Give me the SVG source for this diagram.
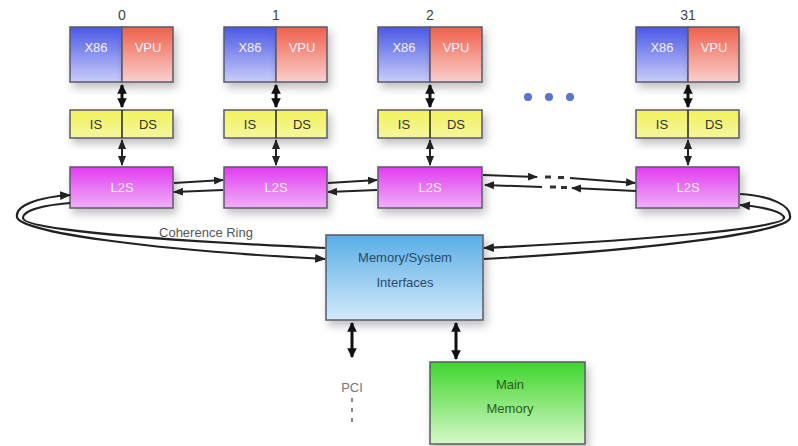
<svg xmlns="http://www.w3.org/2000/svg" width="798" height="446" viewBox="0 0 798 446">
<defs>
<style>
.t{font-family:"Liberation Sans","DejaVu Sans",sans-serif;text-anchor:middle}
.lbl{font-size:14px;fill:#444}
.w{font-size:13px;fill:#f4f0ff}
.d{font-size:13px;fill:#333}
.box{stroke:#5a5a6a;stroke-width:1.5}
.ln{fill:none;stroke:#222;stroke-width:2}
.ring{fill:none;stroke:#222;stroke-width:2.2}
.thick{fill:none;stroke:#111;stroke-width:3}
.dash{stroke:#333;stroke-width:3}
</style>
<linearGradient id="gX" x1="0" y1="0" x2="0" y2="1"><stop offset="0" stop-color="#4a58e6"/><stop offset="1" stop-color="#c9cdf8"/></linearGradient>
<linearGradient id="gV" x1="0" y1="0" x2="0" y2="1"><stop offset="0" stop-color="#f0604c"/><stop offset="1" stop-color="#f9d0cc"/></linearGradient>
<linearGradient id="gY" x1="0" y1="0" x2="0" y2="1"><stop offset="0" stop-color="#f2f25a"/><stop offset="1" stop-color="#f6f6a0"/></linearGradient>
<linearGradient id="gL" x1="0" y1="0" x2="0" y2="1"><stop offset="0" stop-color="#e03cf0"/><stop offset="1" stop-color="#f2b0f8"/></linearGradient>
<linearGradient id="gM" x1="0" y1="0" x2="0" y2="1"><stop offset="0" stop-color="#58aee6"/><stop offset="1" stop-color="#d4eafa"/></linearGradient>
<linearGradient id="gG" x1="0" y1="0" x2="0" y2="1"><stop offset="0" stop-color="#3ed62c"/><stop offset="1" stop-color="#d6f8c8"/></linearGradient>
<filter id="sh" x="-20%" y="-20%" width="150%" height="160%"><feDropShadow dx="3" dy="5" stdDeviation="4" flood-color="#000" flood-opacity="0.25"/></filter>
<marker id="a" viewBox="0 0 10 10" refX="9" refY="5" markerWidth="5" markerHeight="5" orient="auto-start-reverse" markerUnits="strokeWidth"><path d="M0,1 L10,5 L0,9 Z" fill="#222"/></marker>
<marker id="ab" viewBox="0 0 10 10" refX="9" refY="5" markerWidth="3.2" markerHeight="3.2" orient="auto-start-reverse" markerUnits="strokeWidth"><path d="M0,0 L10,5 L0,10 Z" fill="#111"/></marker>
</defs>
<rect width="798" height="446" fill="#fff"/>

<g id="core0">
<text class="t lbl" x="122" y="20">0</text>
<rect class="box" x="70" y="27" width="52" height="55" fill="url(#gX)" filter="url(#sh)"/>
<rect class="box" x="122" y="27" width="51" height="55" fill="url(#gV)" filter="url(#sh)"/>
<text class="t w" x="96" y="52">X86</text><text class="t w" x="148" y="52">VPU</text>
<rect class="box" x="70" y="110" width="103" height="28" fill="url(#gY)" filter="url(#sh)"/>
<text class="t d" x="96" y="129">IS</text><text class="t d" x="148" y="129">DS</text>
<rect class="box" x="70" y="167" width="103" height="41" fill="url(#gL)" filter="url(#sh)"/>
<text class="t w" x="122" y="192">L2S</text>
</g>
<g id="core1">
<text class="t lbl" x="276" y="20">1</text>
<rect class="box" x="224" y="27" width="52" height="55" fill="url(#gX)" filter="url(#sh)"/>
<rect class="box" x="276" y="27" width="51" height="55" fill="url(#gV)" filter="url(#sh)"/>
<text class="t w" x="250" y="52">X86</text><text class="t w" x="302" y="52">VPU</text>
<rect class="box" x="224" y="110" width="103" height="28" fill="url(#gY)" filter="url(#sh)"/>
<text class="t d" x="250" y="129">IS</text><text class="t d" x="302" y="129">DS</text>
<rect class="box" x="224" y="167" width="103" height="41" fill="url(#gL)" filter="url(#sh)"/>
<text class="t w" x="276" y="192">L2S</text>
</g>
<g id="core2">
<text class="t lbl" x="430" y="20">2</text>
<rect class="box" x="378" y="27" width="52" height="55" fill="url(#gX)" filter="url(#sh)"/>
<rect class="box" x="430" y="27" width="52" height="55" fill="url(#gV)" filter="url(#sh)"/>
<text class="t w" x="404" y="52">X86</text><text class="t w" x="456" y="52">VPU</text>
<rect class="box" x="378" y="110" width="104" height="28" fill="url(#gY)" filter="url(#sh)"/>
<text class="t d" x="404" y="129">IS</text><text class="t d" x="456" y="129">DS</text>
<rect class="box" x="378" y="167" width="104" height="41" fill="url(#gL)" filter="url(#sh)"/>
<text class="t w" x="430" y="192">L2S</text>
</g>
<g id="core31">
<text class="t lbl" x="688" y="20">31</text>
<rect class="box" x="636" y="27" width="52" height="55" fill="url(#gX)" filter="url(#sh)"/>
<rect class="box" x="688" y="27" width="51" height="55" fill="url(#gV)" filter="url(#sh)"/>
<text class="t w" x="662" y="52">X86</text><text class="t w" x="714" y="52">VPU</text>
<rect class="box" x="636" y="110" width="103" height="28" fill="url(#gY)" filter="url(#sh)"/>
<text class="t d" x="662" y="129">IS</text><text class="t d" x="714" y="129">DS</text>
<rect class="box" x="636" y="167" width="103" height="41" fill="url(#gL)" filter="url(#sh)"/>
<text class="t w" x="688" y="192">L2S</text>
</g>
<g id="ellipsis" fill="#5a72d0">
<circle cx="528" cy="97" r="4"/><circle cx="549" cy="97" r="4"/><circle cx="570" cy="97" r="4"/>
</g>
<g id="memsys">
<rect class="box" x="326" y="235" width="157" height="85" fill="url(#gM)" filter="url(#sh)"/>
<text class="t" x="405" y="262" font-size="13" fill="#2a4a6a">Memory/System</text>
<text class="t" x="405" y="287" font-size="13" fill="#2a4a6a">Interfaces</text>
</g>
<g id="mainmem">
<rect class="box" x="430" y="362" width="155" height="82" fill="url(#gG)" filter="url(#sh)"/>
<text class="t" x="510" y="389" font-size="13" fill="#2e5a22">Main</text>
<text class="t" x="510" y="413" font-size="13" fill="#2e5a22">Memory</text>
</g>
<g id="pci">
<text class="t" x="352" y="392" font-size="13" fill="#777">PCI</text>
<g fill="#888"><rect x="351" y="398" width="2" height="4"/><rect x="351" y="408" width="2" height="4"/><rect x="351" y="418" width="2" height="4"/></g>
</g>
<text class="t" x="206" y="237" font-size="13" fill="#555">Coherence Ring</text>

<g id="connectors">
<!-- core vertical links -->
<path class="thick" d="M122,85 L122,107" marker-start="url(#ab)" marker-end="url(#ab)"/>
<path class="ln" d="M122,140 L122,165" marker-start="url(#a)" marker-end="url(#a)"/>
<path class="thick" d="M276,85 L276,107" marker-start="url(#ab)" marker-end="url(#ab)"/>
<path class="ln" d="M276,140 L276,165" marker-start="url(#a)" marker-end="url(#a)"/>
<path class="thick" d="M430,85 L430,107" marker-start="url(#ab)" marker-end="url(#ab)"/>
<path class="ln" d="M430,140 L430,165" marker-start="url(#a)" marker-end="url(#a)"/>
<path class="thick" d="M688,85 L688,107" marker-start="url(#ab)" marker-end="url(#ab)"/>
<path class="ln" d="M688,140 L688,165" marker-start="url(#a)" marker-end="url(#a)"/>
<!-- divider lines through IS/DS -->
<line x1="122" y1="110" x2="122" y2="138" stroke="#222" stroke-width="1.5"/>
<line x1="276" y1="110" x2="276" y2="138" stroke="#222" stroke-width="1.5"/>
<line x1="430" y1="110" x2="430" y2="138" stroke="#222" stroke-width="1.5"/>
<line x1="688" y1="110" x2="688" y2="138" stroke="#222" stroke-width="1.5"/>
<!-- ring segments between L2S -->
<path class="ln" d="M174,183 L223,180" marker-end="url(#a)"/>
<path class="ln" d="M223,190 L174,192" marker-end="url(#a)"/>
<path class="ln" d="M328,183 L377,180" marker-end="url(#a)"/>
<path class="ln" d="M377,190 L328,192" marker-end="url(#a)"/>
<path class="ln" d="M483,175 L537,177" marker-end="url(#a)"/>
<line class="dash" x1="545" y1="177" x2="551" y2="177"/>
<line class="dash" x1="558" y1="177.5" x2="564" y2="177.5"/>
<path class="ln" d="M570,178 L635,183" marker-end="url(#a)"/>
<path class="ln" d="M542,187 L485,185" marker-end="url(#a)"/>
<line class="dash" x1="550" y1="187" x2="556" y2="187"/>
<line class="dash" x1="561" y1="187.5" x2="567" y2="187.5"/>
<path class="ln" d="M636,191 L572,188" marker-end="url(#a)"/>
<!-- coherence ring loops -->
<path class="ring" d="M70,195 C40,197 15,205 17,217 C19,232 150,250 325,259" marker-start="url(#a)" marker-end="url(#a)"/>
<path class="ring" d="M70,203 C45,205 23,210 23,218 C23,229 150,240 325,248"/>
<path class="ring" d="M740,194 C770,196 792,205 790,218 C788,232 650,250 484,259"/>
<path class="ring" d="M740,205 C765,207 784,212 784,218 C784,228 650,240 484,248" marker-start="url(#a)" marker-end="url(#a)"/>
<!-- memory links -->
<path class="thick" d="M352,323 L352,357" marker-start="url(#ab)" marker-end="url(#ab)"/>
<path class="thick" d="M456,323 L456,359" marker-start="url(#ab)" marker-end="url(#ab)"/>
</g>
</svg>
